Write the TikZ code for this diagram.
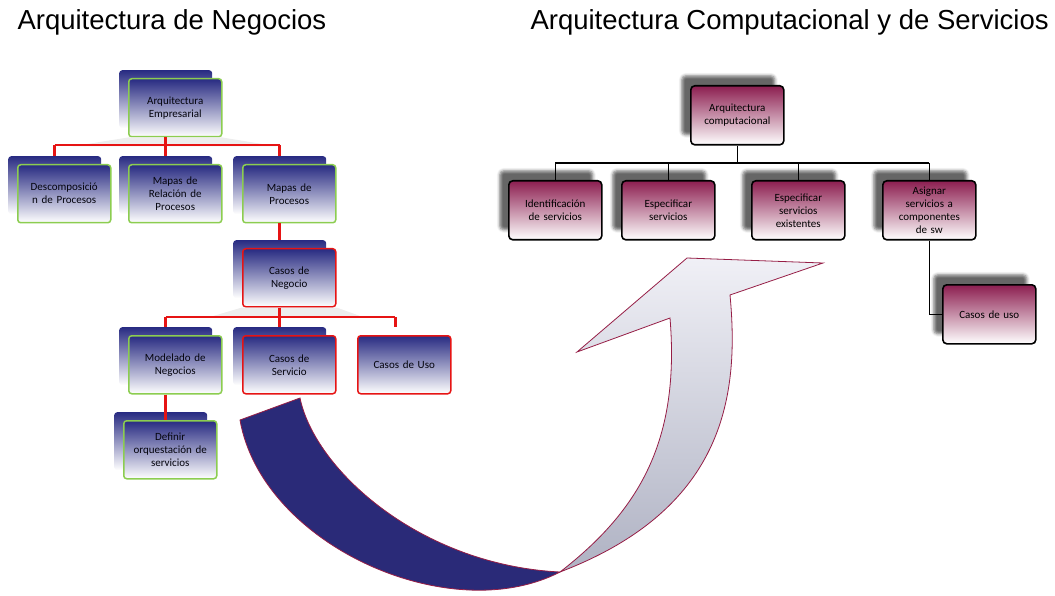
\documentclass[tikz,border=0pt]{standalone}
\usepackage{fontspec}
\setmainfont{Carlito}
\newfontfamily\titlefont{Liberation Sans}
\usetikzlibrary{shadows.blur}

\definecolor{navyb}{RGB}{40,43,130}
\definecolor{lavb}{RGB}{160,162,205}
\definecolor{leafgreen}{RGB}{140,205,80}
\definecolor{boxred}{RGB}{230,20,20}
\definecolor{wine}{RGB}{140,30,80}
\definecolor{pinkb}{RGB}{205,150,175}
\definecolor{arrowblue}{RGB}{42,42,120}
\definecolor{arrowedge}{RGB}{150,30,70}
\definecolor{arrowlight}{RGB}{240,240,246}
\definecolor{arrowgray}{RGB}{175,178,195}

\tikzset{
  negback/.style={anchor=north west, rounded corners=3pt, minimum width=93pt,
    minimum height=58pt, top color=navyb, middle color=lavb, bottom color=white},
  negbox/.style={negback, line width=1.5pt, text=black!90!navyb, align=center,
    font=\fontsize{11}{13}\selectfont, inner sep=2pt, text width=84pt},
  srvbox/.style={anchor=north west, rounded corners=4pt, minimum width=93pt,
    minimum height=59pt, draw=black, line width=1.6pt, top color=wine,
    middle color=pinkb, bottom color=white, align=center, inner sep=2pt,
    text width=84pt, font=\fontsize{11}{13}\selectfont,
    blur shadow={shadow xshift=-9pt, shadow yshift=10pt,
      shadow blur radius=3pt, shadow opacity=60}},
  redline/.style={boxred, line width=2.5pt},
  blackline/.style={black, line width=1.6pt},
  title/.style={anchor=base west, font=\titlefont\fontsize{27.5}{30}\selectfont}
}

\begin{document}
\begin{tikzpicture}[x=1pt,y=-1pt]
  \useasboundingbox (0,0) rectangle (1055,596);
  \node[title] (tneg) at (14,30) {Arquitectura de Negocios};
  \node[title] (tcomp) at (527,30) {Arquitectura Computacional y de Servicios};
  %
  % big twisted arrow: dark back side first, then the light front side
  \fill[arrowblue,draw=arrowedge,line width=0.8pt]
    (240,420) .. controls (262,545) and (450,629) .. (560,572)
    .. controls (420,565) and (315,470) .. (300,398) -- cycle;
  \shade[top color=arrowlight,bottom color=arrowgray,draw=arrowedge,line width=0.8pt]
    (560,572) .. controls (640,510) and (680,440) .. (670,318)
    -- (577,352) -- (687,258) -- (823,263) -- (730,295)
    .. controls (740,400) and (722,510) .. (560,572) -- cycle;
  %
  % business tree
  \foreach \nm/\x/\y in {ae/128/78, d/17/164, mr/128/164, mp/242/164,
      cn/242/248, mn/128/335, cs/242/335, do/123/420}%
    \node[negback] (\nm-b) at (\x-9,\y-8) {};%
  \foreach \nm/\x/\y/\c/\t in {ae/128/78/leafgreen/{Arquitectura\\Empresarial},
      d/17/164/leafgreen/{Descomposició\\n de Procesos},
      mr/128/164/leafgreen/{Mapas de\\Relación de\\Procesos},
      mp/242/164/leafgreen/{Mapas de\\Procesos},
      cn/242/248/boxred/{Casos de\\Negocio},
      mn/128/335/leafgreen/{Modelado de\\Negocios},
      cs/242/335/boxred/{Casos de\\Servicio},
      cu/357/335/boxred/{Casos de Uso},
      do/123/420/leafgreen/{Definir\\orquestación de\\servicios}}%
    \node[negbox,draw=\c] (\nm) at (\x,\y) {\t};%
  \coordinate (j1) at (0,145);%
  \coordinate (j2) at (0,317);%
  \coordinate (cu-b) at ([shift={(-9pt,8pt)}]cu.north);%
  \fill[gray!14] (ae.south west) -- (ae.south east) -- ++(55,9) -- ++(-206,0) -- cycle;%
  \fill[gray!14] (cn.south west) -- (cn.south east) -- ++(25,9) -- ++(-150,0) -- cycle;%
  \draw[redline] (ae.south -| ae-b) -- (j1 -| ae-b);%
  \draw[redline] (j1 -| d-b) -- (j1 -| mp-b);%
  \foreach \nm in {d,mr,mp}%
    \draw[redline] (j1 -| \nm-b) -- (\nm-b.north);%
  \draw[redline] (mp.south -| mp-b) -- (cn-b.north);%
  \draw[redline] (cn.south -| cn-b) -- (j2 -| cn-b);%
  \draw[redline] (j2 -| mn-b) -- (j2 -| cu-b);%
  \foreach \nm in {mn,cs}%
    \draw[redline] (j2 -| \nm-b) -- (\nm-b.north);%
  \draw[redline] (j2 -| cu-b) -- (cu-b);%
  \draw[redline] (mn.south -| mn-b) -- (do.north -| mn-b);%
  %
  % services tree
  \foreach \nm/\x/\y/\t in {ac/690/85/{Arquitectura\\computacional},
      is/508/180/{Identificación\\de servicios},
      es/621/180/{Especificar\\servicios},
      ese/751/180/{Especificar\\servicios\\existentes},
      as/882/180/{Asignar\\servicios a\\componentes\\de sw},
      cuso/942/284/{Casos de uso}}%
    \node[srvbox] (\nm) at (\x,\y) {\t};%
  \coordinate (j3) at (0,163);%
  \draw[blackline] (ac.south) -- (j3 -| ac.south);%
  \draw[blackline] (j3 -| is.north) -- (j3 -| as.north);%
  \foreach \nm in {is,es,ese,as}%
    \draw[blackline] (j3 -| \nm.north) -- (\nm.north);%
  \draw[blackline] (as.south) |- (cuso.west);%
\end{tikzpicture}
\end{document}
